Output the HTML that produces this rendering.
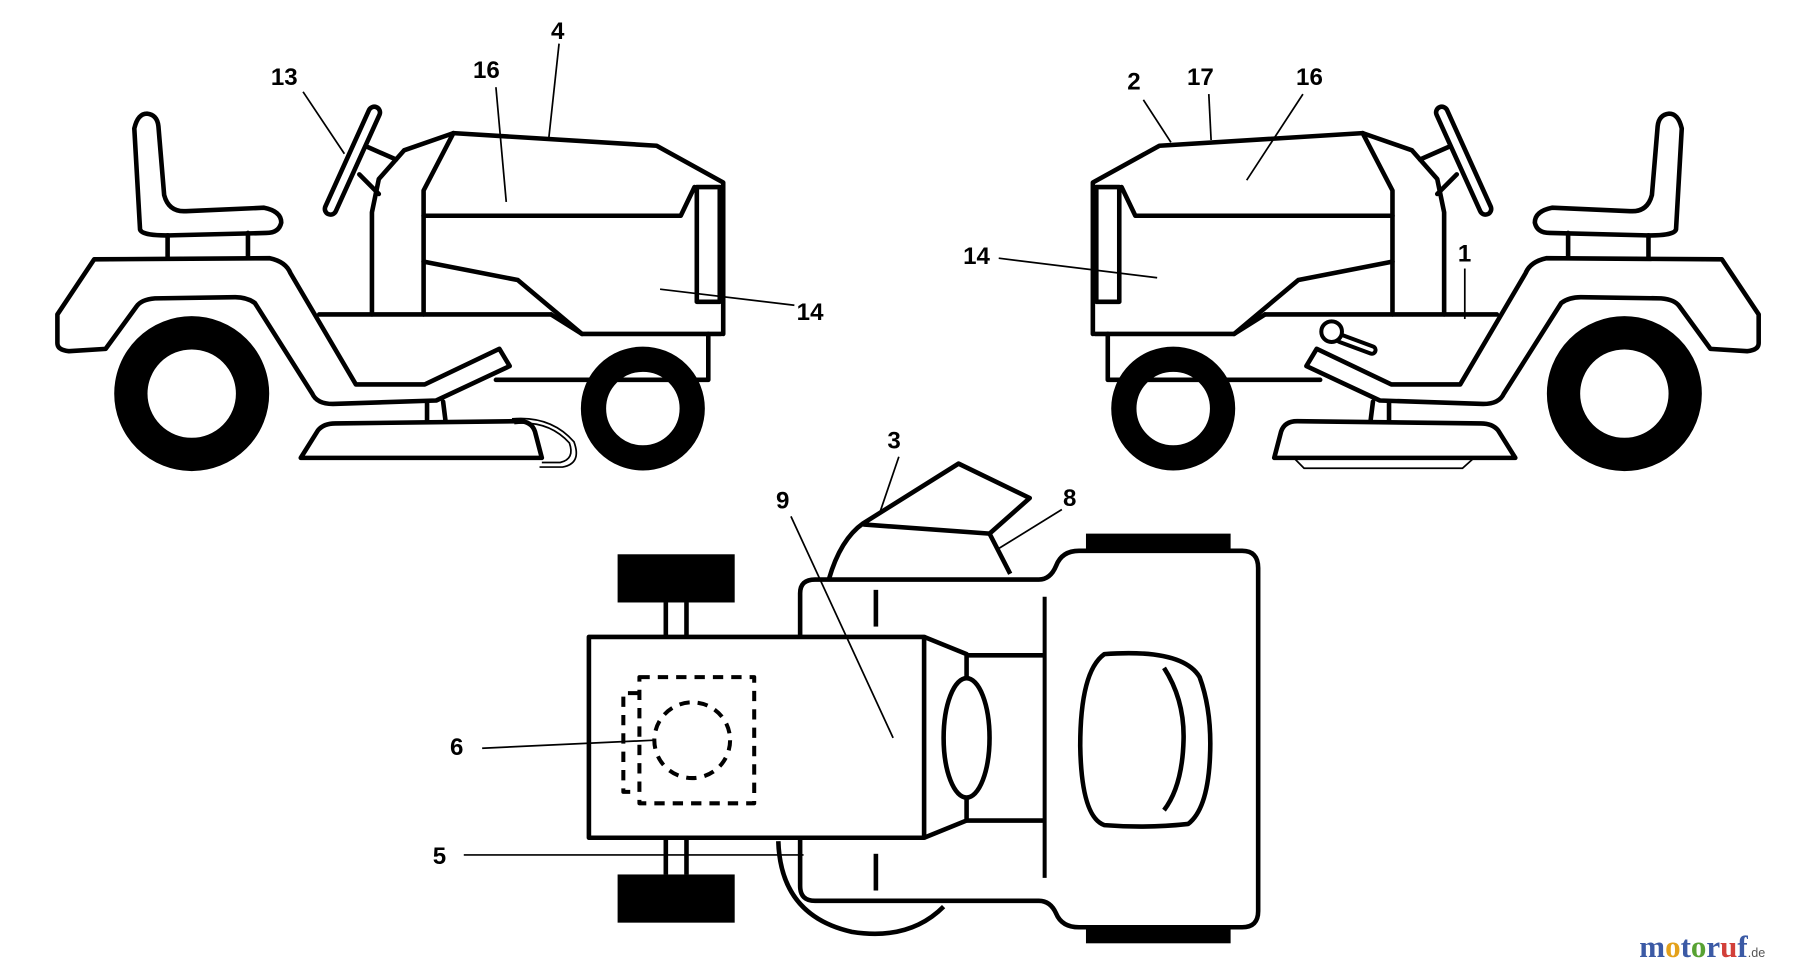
<!DOCTYPE html>
<html><head><meta charset="utf-8"><style>
html,body{margin:0;padding:0;background:#fff;}
svg{display:block;}
text{font-family:"Liberation Sans",Arial,sans-serif;font-size:21px;font-weight:bold;fill:#000;}
</style></head><body>
<svg width="1800" height="972" viewBox="0 0 1568 847" preserveAspectRatio="none" xmlns="http://www.w3.org/2000/svg">
<defs>
<g id="tractor" fill="none" stroke="#000" stroke-width="4" stroke-linejoin="round" stroke-linecap="round">
  <circle cx="167" cy="343" r="53" stroke-width="29"/>
  <circle cx="560" cy="356" r="43" stroke-width="22"/>
  <path d="M122,200 L117,112 Q120,99 128,99 Q137,100 138,110 L143,170 Q147,185 162,184 L230,181 Q245,184 245,194 Q243,203 232,203 L152,205 Q124,206 122,200 Z" fill="#fff"/>
  <line x1="146" y1="205" x2="146" y2="226"/>
  <line x1="216" y1="203" x2="216" y2="226"/>
  <path d="M82,226 L235,225 Q249,228 253,238 L310,335 L370,335 L435,304 L444,319 L380,349 L290,352 Q276,352 272,343 L222,264 Q215,259 205,259 L135,260 Q123,261 119,267 L92,304 L60,306 Q50,305 50,299 L50,274 Z" fill="#fff"/>
  <line x1="278" y1="274" x2="480" y2="274"/>
  <polyline points="480,274 507,291 628,291"/>
  <polyline points="617,291 617,331 432,331"/>
  <polyline points="324,274 324,185 330,156 352,131 395,116"/>
  <polyline points="369,274 369,166 395,116"/>
  <polyline points="395,116 572,127 630,159 630,291"/>
  <polyline points="369,188 593,188 605,163"/>
  <rect x="607" y="163" width="20" height="100"/>
  <polyline points="369,228 451,244 507,291"/>
  <line x1="320" y1="128" x2="345" y2="139"/>
  <line x1="313" y1="152" x2="330" y2="169"/>
  <line x1="326" y1="98" x2="288" y2="182" stroke-width="14"/>
  <line x1="326" y1="98" x2="288" y2="182" stroke-width="6" stroke="#fff"/>
  <line x1="372" y1="350" x2="372" y2="367"/>
  <line x1="386" y1="350" x2="388" y2="366"/>
  <path d="M262,399 L277,375 Q282,369 292,369 L452,367 Q463,367 466,376 L472,399 Z" fill="#fff"/>
</g>
</defs>

<use href="#tractor"/>
<path d="M446,365 Q480,362 500,385 Q507,404 490,407 L470,407" fill="none" stroke="#000" stroke-width="1.5"/>
<path d="M448,369 Q478,366 496,386 Q501,400 488,403 L472,403" fill="none" stroke="#000" stroke-width="1.5"/>

<g transform="translate(1582,0) scale(-1,1)"><use href="#tractor"/></g>
<g fill="none" stroke="#000" stroke-width="4" stroke-linecap="round">
  <line x1="1168" y1="295" x2="1195" y2="305" stroke-width="10"/>
  <line x1="1168" y1="295" x2="1195" y2="305" stroke-width="3" stroke="#fff"/>
  <circle cx="1160" cy="289" r="9" fill="#fff" stroke-width="3.5"/>
</g>
<path d="M1128,400 L1136,408 L1274,408 L1283,400" fill="none" stroke="#000" stroke-width="1.5"/>

<!-- top view -->
<g fill="none" stroke="#000" stroke-width="4" stroke-linejoin="round">
  <rect x="538" y="483" width="102" height="42" fill="#000" stroke="none"/>
  <rect x="538" y="762" width="102" height="42" fill="#000" stroke="none"/>
  <rect x="946" y="465" width="126" height="14" fill="#000" stroke="none"/>
  <rect x="946" y="808" width="126" height="14" fill="#000" stroke="none"/>
  <line x1="580" y1="525" x2="580" y2="555"/><line x1="598" y1="525" x2="598" y2="555"/>
  <line x1="580" y1="730" x2="580" y2="762"/><line x1="598" y1="730" x2="598" y2="762"/>
  <path d="M678,733 Q680,798 742,812 Q792,820 822,790"/>
  <path d="M722,505 Q732,470 752,456 L835,404 L897,434 L862,465 L880,500"/>
  <line x1="752" y1="457" x2="862" y2="465"/>
  <path d="M697,555 L697,517 Q697,505 710,505 L905,505 Q915,505 920,493 Q925,480 940,480 L1082,480 Q1096,480 1096,495 L1096,794 Q1096,808 1082,808 L940,808 Q925,808 920,796 Q915,785 905,785 L710,785 Q697,785 697,772 L697,730" fill="#fff"/>
  <line x1="763" y1="514" x2="763" y2="546"/>
  <line x1="763" y1="744" x2="763" y2="776"/>
  <line x1="910" y1="520" x2="910" y2="765" stroke-width="3.5"/>
  <line x1="842" y1="571" x2="910" y2="571"/>
  <line x1="842" y1="715" x2="910" y2="715"/>
  <polyline points="805,555 842,570 842,715 805,730"/>
  <rect x="513" y="555" width="292" height="175" fill="#fff"/>
  <ellipse cx="842" cy="643" rx="20" ry="52" fill="#fff"/>
  <path d="M962,570 Q1030,565 1045,590 Q1056,620 1054,660 Q1052,705 1035,718 Q1000,722 962,719 Q942,712 941,650 Q941,585 962,570 Z"/>
  <path d="M1014,582 Q1032,610 1031,645 Q1030,685 1014,706"/>
  <g stroke-width="3.5" stroke-dasharray="9,7">
    <rect x="557" y="590" width="100" height="110"/>
    <polyline points="556,604 543,604 543,690 556,690"/>
    <circle cx="603" cy="645" r="33"/>
  </g>
</g>

<!-- leaders -->
<g stroke="#000" stroke-width="1.5">
  <line x1="264" y1="80" x2="300" y2="134"/>
  <line x1="432" y1="76" x2="441" y2="176"/>
  <line x1="487" y1="38" x2="478" y2="121"/>
  <line x1="575" y1="252" x2="692" y2="266"/>
  <line x1="996" y1="87" x2="1020" y2="124"/>
  <line x1="1053" y1="82" x2="1055" y2="122"/>
  <line x1="1135" y1="82" x2="1086" y2="157"/>
  <line x1="870" y1="225" x2="1008" y2="242"/>
  <line x1="1276" y1="234" x2="1276" y2="278"/>
  <line x1="783" y1="398" x2="767" y2="445"/>
  <line x1="689" y1="450" x2="778" y2="643"/>
  <line x1="925" y1="444" x2="870" y2="478"/>
  <line x1="420" y1="652" x2="570" y2="645"/>
  <line x1="404" y1="745" x2="700" y2="745"/>
</g>
<text x="236" y="74">13</text>
<text x="412" y="68">16</text>
<text x="480" y="34">4</text>
<text x="694" y="279">14</text>
<text x="982" y="78">2</text>
<text x="1034" y="74">17</text>
<text x="1129" y="74">16</text>
<text x="839" y="230">14</text>
<text x="1270" y="228">1</text>
<text x="773" y="391">3</text>
<text x="676" y="443">9</text>
<text x="926" y="441">8</text>
<text x="392" y="658">6</text>
<text x="377" y="753">5</text>

<text x="1428" y="834" style="font-family:'Liberation Serif',serif;font-size:27px;"><tspan fill="#3b5aa5">m</tspan><tspan fill="#e4a11b">o</tspan><tspan fill="#3b5aa5">t</tspan><tspan fill="#58a233">o</tspan><tspan fill="#3b5aa5">r</tspan><tspan fill="#d2403a">u</tspan><tspan fill="#3b5aa5">f</tspan><tspan fill="#555" style="font-size:11px;font-family:'Liberation Sans',sans-serif;font-weight:normal">.de</tspan></text>
</svg>
</body></html>
